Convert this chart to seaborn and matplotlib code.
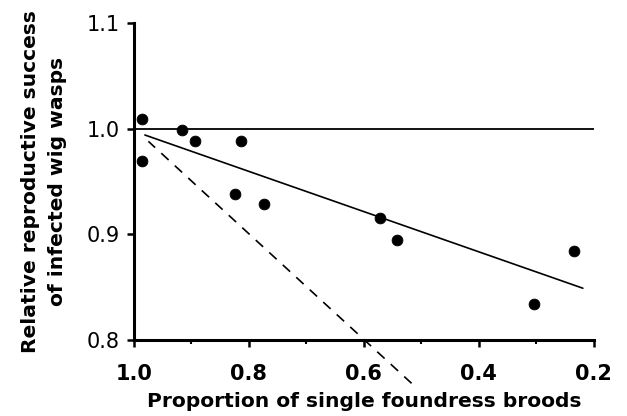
import matplotlib
matplotlib.use("Agg")
import matplotlib.pyplot as plt
import numpy as np
import pandas as pd
import seaborn as sns
from matplotlib.ticker import MultipleLocator

# Observed broods
prop_single = [0.986, 0.986, 0.917, 0.894, 0.814, 0.824, 0.774, 0.572, 0.543, 0.304, 0.235]
rel_success = [1.009, 0.969, 0.999, 0.988, 0.988, 0.938, 0.929, 0.915, 0.895, 0.834, 0.884]

# Reference line (no cost), fitted line and expected line
ref_x = [1.0, 0.2]
ref_y = [1.0, 1.0]
fit_x = [0.981, 0.219]
fit_y = [0.994, 0.849]
exp_x = [0.975, 0.517]
exp_y = [0.988, 0.759]

x_ticks = [1.0, 0.8, 0.6, 0.4, 0.2]
x_tick_labels = ["1.0", "0.8", "0.6", "0.4", "0.2"]
y_ticks = [0.8, 0.9, 1.0, 1.1]
y_tick_labels = ["0.8", "0.9", "1.0", "1.1"]

sns.set_style("ticks")
plt.rcParams["font.family"] = ["DejaVu Sans"]
plt.rcParams["text.color"] = "black"
plt.rcParams["axes.labelcolor"] = "black"
plt.rcParams["xtick.color"] = "black"
plt.rcParams["ytick.color"] = "black"

fig = plt.figure(figsize=(6.27, 4.16), dpi=100)
ax = fig.add_axes([0.2137, 0.1827, 0.7333, 0.762])

df = pd.DataFrame({"x": prop_single, "y": rel_success})

ax.plot(ref_x, ref_y, color="black", lw=1.3, zorder=2)
sns.lineplot(x=fit_x, y=fit_y, ax=ax, color="black", lw=1.2, zorder=2)
sns.lineplot(x=exp_x, y=exp_y, ax=ax, color="black", lw=1.2,
             linestyle=(0, (6, 5)), zorder=2, clip_on=False)
sns.scatterplot(data=df, x="x", y="y", ax=ax, color="black", s=60,
                edgecolor="black", zorder=3, clip_on=False)

ax.set_xlim(1.0, 0.2)
ax.set_ylim(0.8, 1.1)
ax.set_xticks(x_ticks)
ax.set_xticklabels(x_tick_labels, fontsize=15, fontweight="bold")
ax.xaxis.set_minor_locator(MultipleLocator(0.1))
ax.set_yticks(y_ticks)
ax.set_yticklabels(y_tick_labels, fontsize=15)

ax.tick_params(axis="both", which="major", direction="out", length=5, width=1.8, color="black")
ax.tick_params(axis="x", which="minor", direction="out", length=3, width=1.5)
ax.tick_params(axis="x", pad=12)
ax.tick_params(axis="y", pad=5)

for side in ["top", "right"]:
    ax.spines[side].set_visible(False)
for side in ["left", "bottom"]:
    ax.spines[side].set_linewidth(2.2)
    ax.spines[side].set_color("black")

ax.set_xlabel("Proportion of single foundress broods", fontsize=14.6,
              fontweight="bold", labelpad=6)
ax.set_ylabel("Relative reproductive success\nof infected wig wasps", fontsize=14.6,
              fontweight="bold", labelpad=14, linespacing=1.55)

fig.savefig("out.png", dpi=100)
